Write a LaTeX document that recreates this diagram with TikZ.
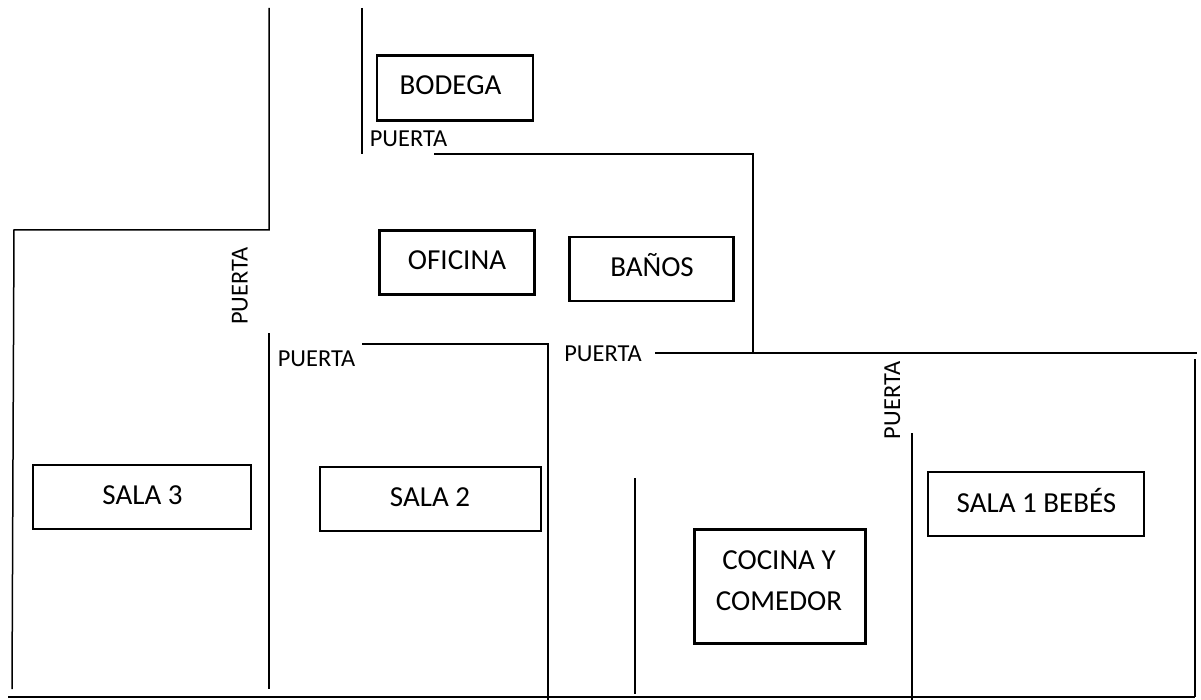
\documentclass[tikz,border=0pt]{standalone}
\usepackage{fontspec}
\setmainfont{Carlito}
\begin{document}
\begin{tikzpicture}[x=1pt,y=-1pt,
  wall/.style={draw=black,line width=1.5pt},
  thinwall/.style={draw=black,line width=1.3pt},
  thickwall/.style={draw=black,line width=2.4pt},
  room/.style={draw=black,line width=2.2pt,fill=white,inner sep=0pt,outer sep=0pt,anchor=north west},
  roomtext/.style={font=\fontsize{29}{41}\selectfont,align=center,inner sep=0pt,anchor=base},
  door/.style={font=\fontsize{24.4}{29}\selectfont,inner sep=0pt,anchor=base}]
\useasboundingbox[fill=white] (0,0) rectangle (1201,700);
% walls
\coordinate (a1) at (269,8); \coordinate (a2) at (269,230); \coordinate (a3) at (14,230); \coordinate (a4) at (12,689);
\draw[wall] (a1) -- (a2) -- (a3) -- (a4);
\coordinate (b1) at (362,8); \coordinate (b2) at (362,154);
\draw[wall] (b1) -- (b2);
\coordinate (c1) at (434,154); \coordinate (c2) at (753,154); \coordinate (c3) at (753,353);
\draw[wall] (c1) -- (c2) -- (c3);
\coordinate (d1) at (655,353); \coordinate (d2) at (1197,353);
\draw[thickwall] (d1) -- (d2);
\coordinate (e1) at (1195,359); \coordinate (e2) at (1195,697);
\draw[thinwall] (e1) -- (e2);
\coordinate (f1) at (269,333); \coordinate (f2) at (269,689);
\draw[wall] (f1) -- (f2);
\coordinate (g1) at (362,344); \coordinate (g2) at (548,344); \coordinate (g3) at (548,700);
\draw[thinwall] (g1) -- (g2) -- (g3);
\coordinate (h1) at (635,478); \coordinate (h2) at (635,694);
\draw[wall] (h1) -- (h2);
\coordinate (i1) at (912,433); \coordinate (i2) at (912,700);
\draw[wall] (i1) -- (i2);
\coordinate (j1) at (8,697); \coordinate (j2) at (1195,697);
\draw[thickwall] (j1) -- (j2);
% rooms
\node[room,minimum width=156pt,minimum height=65pt] (bodega) at (377,55.5) {};
\node[room,minimum width=155pt,minimum height=64pt] (oficina) at (379.5,230.5) {};
\node[room,minimum width=164pt,minimum height=64pt] (banos) at (569.5,237) {};
\node[room,minimum width=218pt,minimum height=64pt] (sala3) at (33,465) {};
\node[room,minimum width=221pt,minimum height=64pt] (sala2) at (320,467) {};
\node[room,minimum width=171pt,minimum height=114pt] (cocina) at (694.5,529.5) {};
\node[room,minimum width=216pt,minimum height=64pt] (sala1) at (928,472) {};
% room labels
\node[roomtext] (tbodega) at (450.5,95) {BODEGA};
\node[roomtext] (toficina) at (457,270) {OFICINA};
\node[roomtext] (tbanos) at (652,277) {BAÑOS};
\node[roomtext] (tsala3) at (142.5,504) {SALA 3};
\node[roomtext] (tsala2) at (430,506) {SALA 2};
\node[roomtext] (tcocina) at (779,610) {COCINA Y\\COMEDOR};
\node[roomtext] (tsala1) at (1036.5,512) {SALA 1 BEBÉS};
% doors
\node[door] (p1) at (408.5,147) {PUERTA};
\node[door,rotate=90] (p2) at (247.5,286) {PUERTA};
\node[door] (p3) at (316.5,366) {PUERTA};
\node[door] (p4) at (603,361) {PUERTA};
\node[door,rotate=90] (p5) at (900,400.5) {PUERTA};
\end{tikzpicture}
\end{document}
